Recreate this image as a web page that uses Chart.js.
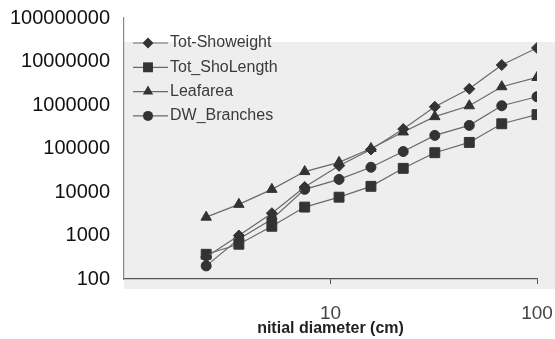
<!DOCTYPE html>
<html>
<head>
<meta charset="utf-8">
<script src="https://cdn.jsdelivr.net/npm/chart.js@4/dist/chart.umd.min.js"></script>
<style>
  html, body { margin: 0; padding: 0; background: #fff; }
  #wrap { width: 555px; height: 339px; }
</style>
</head>
<body>
<div id="wrap"><canvas id="myChart" width="555" height="339"></canvas></div>
<script>
var diameters = [2.5, 3.6, 5.2, 7.5, 11, 15.7, 22.5, 32, 47, 67.5, 100];
var showeight = [320, 1000, 3250, 13000, 40000, 95000, 280000, 910000, 2350000, 8300000, 20500000];
var shoLength = [370, 630, 1630, 4500, 7600, 13500, 35000, 80000, 138000, 370000, 600000];
var leafarea = [2640, 5200, 11500, 29500, 48000, 100000, 240000, 540000, 960000, 2630000, 4300000];
var branches = [200, 830, 2370, 11500, 19500, 37000, 85000, 200000, 340000, 960000, 1550000];
var seriesNames = ["Tot-Showeight", "Tot_ShoLength", "Leafarea", "DW_Branches"];
var yTicks = [100, 1000, 10000, 100000, 1000000, 10000000, 100000000];
var xTicks = [10, 100];

function pts(vals) {
  return vals.map(function (v, i) { return { x: diameters[i], y: v }; });
}

var styles = [
  { pointStyle: 'rectRot', radius: 5.5 },
  { pointStyle: 'rect', radius: 7 },
  { pointStyle: 'triangle', radius: 6 },
  { pointStyle: 'circle', radius: 5 }
];
var allValues = [showeight, shoLength, leafarea, branches];

var datasets = allValues.map(function (vals, i) {
  return {
    label: seriesNames[i],
    data: pts(vals),
    borderColor: '#6a6a6a',
    borderWidth: 1.2,
    pointStyle: styles[i].pointStyle,
    pointRadius: styles[i].radius,
    pointBackgroundColor: '#333',
    pointBorderColor: '#333',
    pointBorderWidth: 1,
    fill: false,
    tension: 0
  };
});

// grey photographed panel behind the plot
var panel = {
  id: 'panel',
  beforeDraw: function (chart) {
    var c = chart.ctx, a = chart.chartArea;
    c.save();
    c.fillStyle = '#fff';
    c.fillRect(0, 0, chart.width, chart.height);
    c.fillStyle = '#eeeeee';
    c.fillRect(a.left, a.top + 24, chart.width - a.left, a.bottom - a.top - 14);
    c.restore();
  }
};

// legend: line with marker, stacked in the top left of the plot
var lineLegend = {
  id: 'lineLegend',
  afterDraw: function (chart) {
    var c = chart.ctx, a = chart.chartArea;
    c.save();
    chart.data.datasets.forEach(function (ds, i) {
      var y = a.top + 25 + i * 24.3;
      var x0 = a.left + 9, x1 = a.left + 44, xm = a.left + 24;
      c.strokeStyle = ds.borderColor;
      c.lineWidth = 1.2;
      c.beginPath(); c.moveTo(x0, y); c.lineTo(x1, y); c.stroke();
      c.fillStyle = '#333';
      var r = ds.pointRadius;
      c.beginPath();
      if (ds.pointStyle === 'rectRot') {
        c.moveTo(xm, y - r); c.lineTo(xm + r, y); c.lineTo(xm, y + r); c.lineTo(xm - r, y);
      } else if (ds.pointStyle === 'rect') {
        var s = r * Math.SQRT1_2;
        c.rect(xm - s, y - s, 2 * s, 2 * s);
      } else if (ds.pointStyle === 'triangle') {
        c.moveTo(xm, y - r); c.lineTo(xm + r * 0.866, y + r * 0.5); c.lineTo(xm - r * 0.866, y + r * 0.5);
      } else {
        c.arc(xm, y, r, 0, Math.PI * 2);
      }
      c.closePath(); c.fill();
      c.fillStyle = '#3a3a3a';
      c.font = '16px "Liberation Sans", Arial, sans-serif';
      c.textBaseline = 'middle';
      c.fillText(ds.label, x1 + 2, y);
    });
    c.restore();
  }
};

var ctx = document.getElementById("myChart");
var myChart = new Chart(ctx, {
  type: 'line',
  data: { datasets: datasets },
  plugins: [panel, lineLegend],
  options: {
    responsive: false,
    animation: false,
    layout: { padding: { left: 0, right: 18, top: 18, bottom: 0 } },
    plugins: {
      legend: { display: false },
      tooltip: { enabled: false }
    },
    scales: {
      x: {
        type: 'logarithmic',
        min: 1,
        max: 100,
        afterBuildTicks: function (scale) {
          scale.ticks = xTicks.map(function (v) { return { value: v }; });
        },
        afterFit: function (scale) {
          scale.height = 60;
          scale.paddingLeft = 0;
          scale.paddingRight = 0;
        },
        ticks: {
          color: '#444',
          padding: 18,
          maxRotation: 0,
          font: { family: '"Liberation Sans", Arial, sans-serif', size: 19 },
          callback: function (v) { return String(v); }
        },
        grid: { drawOnChartArea: false, drawTicks: true, tickLength: 5, color: '#555' },
        border: { display: true, color: '#555', width: 1.2 },
        title: {
          display: true,
          text: 'nitial diameter (cm)',
          color: '#222',
          padding: { top: 0, bottom: 1 },
          font: { family: '"Liberation Sans", Arial, sans-serif', size: 16, weight: 'bold' }
        }
      },
      y: {
        type: 'logarithmic',
        min: 100,
        max: 100000000,
        afterBuildTicks: function (scale) {
          scale.ticks = yTicks.map(function (v) { return { value: v }; });
        },
        afterFit: function (scale) {
          scale.width = 124;
          scale.paddingTop = 0;
          scale.paddingBottom = 0;
        },
        ticks: {
          color: '#111',
          padding: 14,
          font: { family: '"Liberation Sans", Arial, sans-serif', size: 20 },
          callback: function (v) { return String(v); }
        },
        grid: { display: false, drawTicks: false },
        border: { display: true, color: '#888', width: 1.2 }
      }
    }
  }
});
</script>
</body>
</html>
